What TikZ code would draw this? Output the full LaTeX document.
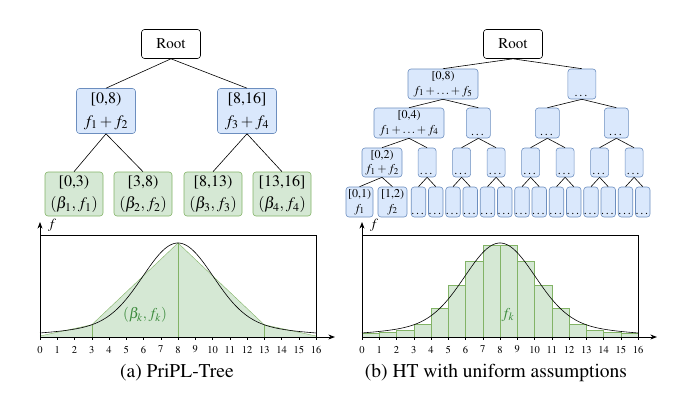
\documentclass[tikz,border=0pt]{standalone}
\usepackage[T1]{fontenc}
\usepackage{mathptmx}
\usetikzlibrary{arrows.meta}
\usetikzlibrary{calc,positioning}

\definecolor{bluefill}{HTML}{DAE8FC}
\definecolor{blueline}{HTML}{6C8EBF}
\definecolor{greenfill}{HTML}{D5E8D4}
\definecolor{greenline}{HTML}{82B366}
\definecolor{greentext}{HTML}{3B8A3B}

\tikzset{
  box/.style={draw, line width=0.6pt, rounded corners=3pt, align=center, inner sep=0pt},
  rootbox/.style={box, fill=white, minimum width=59pt, minimum height=29pt, font=\fontsize{15}{17}\selectfont},
  bluebox/.style={box, draw=blueline, fill=bluefill},
  greenbox/.style={box, draw=greenline, fill=greenfill},
  bigfont/.style={font=\fontsize{16}{22.5}\selectfont},
  smallfont/.style={font=\fontsize{12}{14.5}\selectfont},
  dotbox/.style={bluebox, smallfont, minimum height=30pt},
  edge/.style={line width=0.6pt},
  ticklab/.style={font=\fontsize{10.5}{12}\selectfont, inner sep=0pt},
  caption/.style={font=\fontsize{19.5}{22}\selectfont},
  declare function={dens(\x)=79.6*exp(-0.125*(\x-8)*(\x-8))+14.4*exp(-0.02*(\x-8)*(\x-8));}
}

\begin{document}
\begin{tikzpicture}[x=1pt, y=-1pt, >=Stealth]
\useasboundingbox (0,0) rectangle (691,415);

% (a) tree
\node[rootbox] (rootA) at (171,44) {Root};
\node[bluebox, bigfont, minimum width=59pt, minimum height=45pt] (a08) at (106,111) {[0,8)\\$f_1+f_2$};
\node[bluebox, bigfont, minimum width=59pt, minimum height=45pt] (a816) at (247,111) {[8,16]\\$f_3+f_4$};
\foreach \x/\rng [count=\i] in {74/{[0,3)}, 143/{[3,8)}, 213/{[8,13)}, 282/{[13,16]}}
  \node[greenbox, bigfont, minimum width=58pt, minimum height=44pt] (leaf\i) at (\x,194) {\rng\\$(\beta_\i, f_\i)$};
\draw[edge] (rootA.south) -- (a08.north);
\draw[edge] (rootA.south) -- (a816.north);
\draw[edge] (a08.south) -- (leaf1.north);
\draw[edge] (a08.south) -- (leaf2.north);
\draw[edge] (a816.south) -- (leaf3.north);
\draw[edge] (a816.south) -- (leaf4.north);

% (b) tree
\node[rootbox] (n0-1) at (513,44) {Root};
\node[bluebox, smallfont, minimum width=70pt, minimum height=30pt] (n1-1) at (443,84) {[0,8)\\$f_1+\ldots+f_5$};
\node[dotbox, minimum width=28pt] (n1-2) at (581.9,84) {\strut\\\ldots};
\node[bluebox, smallfont, minimum width=70pt, minimum height=30pt] (n2-1) at (409,123) {[0,4)\\$f_1+\ldots+f_4$};
\foreach \i in {2,3,4}
  \node[dotbox, minimum width=24pt] (n2-\i) at ({478.4+69*(\i-2)},123) {\strut\\\ldots};
\node[bluebox, smallfont, minimum width=40pt, minimum height=29pt] (n3-1) at (382,162.5) {[0,2)\\$f_1+f_2$};
\foreach \i in {2,...,8}
  \node[dotbox, minimum width=18pt, minimum height=29pt] (n3-\i) at ({427.1+34.5*(\i-2)},162.5) {\strut\\\ldots};
\node[bluebox, smallfont, minimum width=27pt, minimum height=30pt] (n4-1) at (359.5,202) {[0,1)\\$f_1$};
\node[bluebox, smallfont, minimum width=29pt, minimum height=30pt] (n4-2) at (392.5,202) {[1,2)\\$f_2$};
\foreach \i in {3,...,16}
  \node[dotbox, minimum width=14.5pt] (n4-\i) at ({418.5+17.25*(\i-3)},202) {\strut\\\ldots};
\foreach \lv/\num in {1/2,2/4,3/8,4/16} {
  \foreach \i in {1,...,\num} {
    \pgfmathtruncatemacro{\up}{\lv-1}
    \pgfmathtruncatemacro{\pj}{(\i+1)/2}
    \draw[edge] (n\up-\pj.south) -- (n\lv-\i.north);
  }
}

% (a) plot
\begin{scope}[shift={(40,337)}, x=17.25pt, y=1pt]
  \fill[greenfill] (0,0) -- (0,1) -- (3,{dens(3)}) -- (8,{dens(8)}) -- (13,{dens(13)}) -- (16,1) -- (16,0) -- cycle;
  \draw[greenline] (0,1) -- (3,{dens(3)}) -- (8,{dens(8)}) -- (13,{dens(13)}) -- (16,1);
  \foreach \t in {3,8,13}
    \draw[greenline] (\t,0) -- (\t,{dens(\t)});
  \draw[edge] (0,0) rectangle (16,102);
  \draw[semithick, domain=0:16, samples=120, smooth] plot (\x,{dens(\x)});
  \node[text=greentext, font=\fontsize{15}{17}\selectfont] (labA) at (6.09,22) {$(\beta_k, f_k)$};
  \foreach \t in {0,...,16} {
    \draw (\t,0) -- (\t,-3);
    \node[ticklab] (tA\t) at (\t,-12.5) {\t};
  }
  \draw[->, thick] (0,0) -- (17.1,0);
  \draw[->, thick] (0,0) -- (0,115);
  \node[font=\fontsize{14}{16}\selectfont] (fA) at (0.7,112) {$f$};
\end{scope}
\node[caption] (capA) at (177,373) {(a) PriPL-Tree};

% (b) plot
\begin{scope}[shift={(362,337)}, x=17.25pt, y=1pt]
  \foreach \h [count=\i from 0] in {4,5,7,13,29,52,76,92,92,76,52,29,13,7,5,4}
    \draw[greenline, fill=greenfill] (\i,0) rectangle (\i+1,\h);
  \draw[edge] (0,0) rectangle (16,102);
  \draw[semithick, domain=0:16, samples=120, smooth] plot (\x,{dens(\x)});
  \node[text=greentext, font=\fontsize{15}{17}\selectfont] (labB) at (8.46,22) {$f_k$};
  \foreach \t in {0,...,16} {
    \draw (\t,0) -- (\t,-3);
    \node[ticklab] (tB\t) at (\t,-12.5) {\t};
  }
  \draw[->, thick] (0,0) -- (17.1,0);
  \draw[->, thick] (0,0) -- (0,115);
  \node[font=\fontsize{14}{16}\selectfont] (fB) at (0.7,112) {$f$};
\end{scope}
\node[caption] (capB) at (496,373) {(b) HT with uniform assumptions};

\end{tikzpicture}
\end{document}
